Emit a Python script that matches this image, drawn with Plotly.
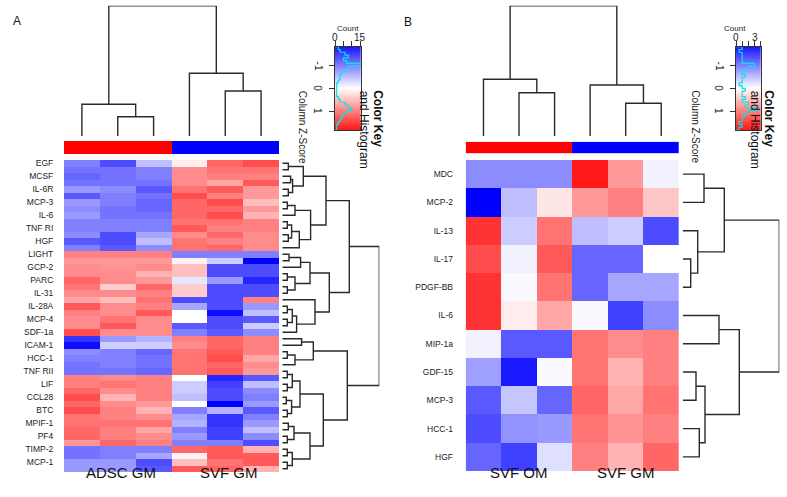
import numpy as np
import plotly.graph_objects as go

W, H = 787, 497
FONT = "Liberation Sans, Arial, sans-serif"

# ---------------- Panel A data ----------------
a_groups = ["ADSC GM", "SVF GM"]
a_group_codes = [0, 0, 0, 1, 1, 1]
a_row_labels = ["EGF", "MCSF", "IL-6R", "MCP-3", "IL-6", "TNF RI", "HGF", "LIGHT",
                "GCP-2", "PARC", "IL-31", "IL-28A", "MCP-4", "SDF-1a", "ICAM-1",
                "HCC-1", "TNF RII", "LIF", "CCL28", "BTC", "MPIF-1", "PF4",
                "TIMP-2", "MCP-1"]
a_z = [
    [-1.0, -1.4, -0.5, 0.15, 1.2, 1.4],
    [-1.1, -1.1, -1.0, 0.9, 1.1, 1.1],
    [-1.2, -1.1, -1.0, 0.9, 1.0, 1.0],
    [-1.1, -1.1, -1.1, 0.9, 0.7, 1.3],
    [-0.8, -0.9, -1.3, 1.1, 1.3, 0.8],
    [-1.3, -1.0, -1.1, 1.4, 1.0, 0.8],
    [-0.8, -1.0, -1.2, 1.2, 1.4, 0.5],
    [-0.9, -1.1, -1.2, 1.2, 1.2, 0.8],
    [-0.8, -1.1, -1.1, 1.2, 1.4, 0.6],
    [-1.0, -1.0, -1.0, 1.1, 1.1, 1.0],
    [-1.0, -1.0, -1.0, 1.3, 1.0, 1.0],
    [-0.9, -1.4, -0.7, 0.9, 1.2, 0.9],
    [-1.3, -1.4, -0.5, 1.1, 1.0, 0.9],
    [-1.0, -1.3, -0.9, 1.1, 1.2, 0.9],
    [1.0, 1.0, 1.0, -1.0, -1.0, -1.0],
    [0.8, 0.8, 0.8, 0.1, -0.4, -2.0],
    [0.9, 0.85, 0.9, 0.5, -1.4, -1.4],
    [0.9, 0.9, 0.6, 0.5, -1.4, -1.4],
    [1.2, 0.9, 0.8, -0.2, -0.8, -1.7],
    [1.1, 0.4, 1.2, 0.4, -1.4, -1.4],
    [0.9, 0.9, 1.0, 0.4, -1.4, -1.4],
    [0.7, 0.5, 1.1, -1.4, -1.4, 1.0],
    [1.3, 0.9, 1.0, -0.7, -1.4, -0.8],
    [1.0, 0.9, 1.3, 0.0, -1.9, -0.5],
    [0.9, 1.1, 0.9, 0.0, -1.4, -1.3],
    [0.9, 1.3, 0.9, -1.3, -1.4, -0.4],
    [1.4, 0.9, 0.9, -1.0, -1.3, -0.9],
    [-1.6, -0.8, -0.6, 1.0, 1.2, 1.0],
    [-1.9, -0.4, -0.4, 0.9, 1.2, 1.0],
    [-0.9, -1.0, -1.2, 1.1, 1.3, 1.0],
    [-1.0, -1.0, -1.1, 1.1, 1.4, 0.7],
    [-1.1, -1.0, -1.1, 1.1, 1.2, 0.9],
    [-1.1, -1.1, -1.2, 1.1, 1.3, 0.8],
    [1.0, 0.9, 1.0, 0.0, -1.7, -1.3],
    [1.0, 1.1, 1.0, -0.4, -1.5, -0.5],
    [1.2, 0.9, 1.0, -0.4, -1.4, -0.9],
    [1.4, 0.6, 1.0, -0.5, -1.4, -1.0],
    [1.2, 0.9, 0.8, 0.0, -2.0, -0.8],
    [1.4, 1.0, 0.6, -1.0, -0.6, -1.3],
    [1.1, 1.0, 0.9, -0.7, -1.6, -1.0],
    [1.1, 1.1, 1.1, -0.6, -1.6, -0.8],
    [1.2, 1.0, 0.7, -1.0, -1.5, -0.5],
    [1.2, 1.0, 0.9, -0.8, -1.5, -0.9],
    [0.8, 1.2, 1.0, -1.0, -1.0, -1.4],
    [-1.1, -1.0, -1.0, 1.2, 1.3, 0.6],
    [-1.1, -1.0, -0.7, 0.1, 1.3, 1.3],
    [-0.8, -0.8, -1.4, 0.5, 1.1, 1.3],
    [-0.8, -0.8, -1.3, 1.3, 1.2, 0.6],
]
# column dendrogram (height, left, right); leaves = column positions
a_col_tree = (130.3, (31.7, 0, (19.3, 1, 2)), (62.7, 3, (45.0, 4, 5)))
# row dendrogram; leaves = row positions
a_row_tree = (97.0,
    (67.0,
        (43.7,
            (21.0, (6.0, 0, 1), (10.3, (8.3, 2, 3), (6.0, 4, 5))),
            (28.3, (12.7, (5.0, 6, 7), 8), (17.0, (9.3, (5.0, 9, 10), (6.0, 11, 12)), 13))),
        (47.0,
            (27.7, (18.3, (6.7, 14, 15), 16), (12.7, (5.0, 17, 18), (5.0, 19, 20))),
            (32.7, 21, (14.3, (10.0, (5.0, 22, 23), (5.0, 24, 25)), 26)))),
    (65.0,
        (31.0, (19.3, 27, 28), (12.7, (5.0, 29, 30), 31)),
        (41.0,
            (17.7, (10.0, (5.0, 32, 33), (5.0, 34, 35)), (9.3, (4.0, 36, 37), (5.0, 38, 39))),
            (27.7, (11.7, (6.0, 40, 41), (5.0, 42, 43)), (10.0, (5.0, 44, 45), (5.0, 46, 47))))))
a_count_ticks = [0, 5, 10, 15]
a_count_labels = ["0", "15"]
a_count_label_at = [0, 15]
a_count_max = 15.4
# histogram in the colour key (counts per z-score bin, top = -1.83 to bottom = +1.83)
a_hist_counts = [2, 3, 6, 8, 5, 7, 15, 8, 6, 4, 3, 3, 2, 1, 1,
                 1, 1, 1, 2, 3, 6, 8, 10, 7, 5, 4, 3, 2, 1, 1]

# ---------------- Panel B data ----------------
b_groups = ["SVF OM", "SVF GM"]
b_group_codes = [0, 0, 0, 1, 1, 1]
b_row_labels = ["MDC", "MCP-2", "IL-13", "IL-17", "PDGF-BB", "IL-6", "MIP-1a",
                "GDF-15", "MCP-3", "HCC-1", "HGF"]
b_z = [
    [-0.9, -0.9, -0.9, 1.8, 0.8, -0.1],
    [-2.0, -0.5, 0.2, 0.8, 1.0, 0.45],
    [1.6, -0.4, 1.1, -0.5, -0.4, -1.4],
    [1.4, -0.1, 1.3, -1.2, -1.2, 0.0],
    [1.6, -0.05, 1.1, -1.2, -0.7, -0.7],
    [1.6, 0.15, 0.7, -0.05, -1.5, -0.9],
    [-0.1, -1.3, -1.3, 1.1, 0.9, 1.0],
    [-0.75, -1.8, -0.05, 1.1, 0.6, 1.0],
    [-1.3, -0.45, -1.2, 1.2, 0.7, 1.1],
    [-1.4, -0.85, -0.8, 1.1, 0.85, 1.0],
    [-1.2, -1.5, -0.25, 1.0, 0.6, 1.2],
]
b_col_tree = (130.3, (56.7, 0, (43.3, 1, 2)), (51.0, 3, (32.7, 4, 5)))
b_row_tree = (96.6,
    (41.6, (21.3, 0, 1), (15.0, 2, (8.0, 3, 4))),
    (56.6, (36.3, 5, 6), (22.3, (13.3, 7, 8), (16.6, 9, 10))))
b_count_ticks = [0, 1, 2, 3, 4]
b_count_labels = ["0", "3"]
b_count_label_at = [0, 3]
b_count_max = 4.0
b_hist_counts = [1, 0.5, 1, 1, 1, 1, 3, 2, 1, 1, 1.5, 1, 1, 0.5, 1,
                 1.5, 1, 1, 1.5, 1, 2, 1.5, 3.5, 2, 1.5, 1, 1, 0.5, 1, 0.5]

KEY_RANGE = 1.83
CS = [[0, "rgb(0,0,255)"], [0.5, "rgb(255,255,255)"], [1, "rgb(255,0,0)"]]
LINE = dict(color="#2a2a2a", width=1.4)


def px_x(a, b):
    return [a / W, b / W]


def px_y(top, bottom):
    return [1 - bottom / H, 1 - top / H]


def dendro(node, xs, ys):
    """returns (position, height) and appends segments"""
    if isinstance(node, int):
        return float(node), 0.0
    h, l, r = node
    pl, hl = dendro(l, xs, ys)
    pr, hr = dendro(r, xs, ys)
    xs.extend([pl, pl, pr, pr, None])
    ys.extend([hl, h, h, hr, None])
    return (pl + pr) / 2, h


fig = go.Figure()
layout = dict(width=W, height=H, margin=dict(l=0, r=0, t=0, b=0), autosize=False,
              paper_bgcolor="white", plot_bgcolor="white", showlegend=False,
              template="none", font=dict(family=FONT, color="#222"))
annotations = []

hidden = dict(showgrid=False, zeroline=False, showticklabels=False, ticks="",
              showline=False, fixedrange=True)


def panel(idx, z, row_labels, label_every, groups, codes, col_tree, row_tree,
          heat_x, heat_y, bar_y, dend_y, row_dend_x, key_x, key_y,
          count_ticks, count_labels, count_label_at, count_max, hist_counts,
          label_len, group_pos, letter, letter_xy):
    n_rows = len(z)
    base = idx * 5
    ax = [str(base + i + 1) if base + i + 1 > 1 else "" for i in range(5)]
    # heatmap
    fig.add_trace(go.Heatmap(z=z, x=list(range(6)), y=list(range(n_rows)),
                             colorscale=CS, zmin=-2, zmax=2, showscale=False,
                             xaxis="x" + ax[0], yaxis="y" + ax[0], hoverinfo="skip"))
    layout["xaxis" + ax[0]] = dict(hidden, domain=px_x(*heat_x), range=[-0.5, 5.5],
                                   anchor="y" + ax[0])
    tv = list(range(0, n_rows, label_every))
    layout["yaxis" + ax[0]] = dict(showgrid=False, zeroline=False, showline=False,
                                   domain=px_y(*heat_y), range=[n_rows - 0.5, -0.5],
                                   anchor="x" + ax[0], tickvals=tv,
                                   ticktext=[row_labels[i // label_every] for i in tv],
                                   ticks="outside", ticklen=label_len,
                                   tickcolor="rgba(0,0,0,0)",
                                   tickfont=dict(size=8.5, family=FONT, color="#222"))
    # column side colour bar
    fig.add_trace(go.Heatmap(z=[codes], x=list(range(6)), y=[0],
                             colorscale=[[0, "rgb(255,0,0)"], [1, "rgb(0,0,255)"]],
                             showscale=False, xaxis="x" + ax[1], yaxis="y" + ax[1],
                             hoverinfo="skip"))
    layout["xaxis" + ax[1]] = dict(hidden, domain=px_x(*heat_x), range=[-0.5, 5.5],
                                   anchor="y" + ax[1])
    layout["yaxis" + ax[1]] = dict(hidden, domain=px_y(*bar_y), range=[-0.5, 0.5],
                                   anchor="x" + ax[1])
    # column dendrogram
    xs, ys = [], []
    _, top_h = dendro(col_tree, xs, ys)
    fig.add_trace(go.Scatter(x=xs, y=ys, mode="lines", line=LINE,
                             xaxis="x" + ax[2], yaxis="y" + ax[2], hoverinfo="skip"))
    layout["xaxis" + ax[2]] = dict(hidden, domain=px_x(*heat_x), range=[-0.5, 5.5],
                                   anchor="y" + ax[2])
    layout["yaxis" + ax[2]] = dict(hidden, domain=px_y(*dend_y), range=[0, top_h],
                                   anchor="x" + ax[2])
    # row dendrogram
    xs, ys = [], []
    _, row_h = dendro(row_tree, xs, ys)
    fig.add_trace(go.Scatter(x=ys, y=xs, mode="lines", line=LINE,
                             xaxis="x" + ax[3], yaxis="y" + ax[3], hoverinfo="skip"))
    layout["xaxis" + ax[3]] = dict(hidden, domain=px_x(*row_dend_x), range=[0, row_h],
                                   anchor="y" + ax[3])
    layout["yaxis" + ax[3]] = dict(hidden, domain=px_y(*heat_y),
                                   range=[n_rows - 0.5, -0.5], anchor="x" + ax[3])
    # colour key with histogram
    kv = np.linspace(-KEY_RANGE, KEY_RANGE, 120)
    fig.add_trace(go.Heatmap(z=[[v, v] for v in kv], x=[0, count_max], y=kv,
                             colorscale=CS, zmin=-2, zmax=2, showscale=False,
                             xaxis="x" + ax[4], yaxis="y" + ax[4], hoverinfo="skip"))
    edges = np.linspace(-KEY_RANGE, KEY_RANGE, len(hist_counts) + 1)
    hx, hy = [0.0], [edges[0]]
    for c, e0, e1 in zip(hist_counts, edges[:-1], edges[1:]):
        hx.extend([c, c])
        hy.extend([e0, e1])
    hx.append(0.0)
    hy.append(edges[-1])
    fig.add_trace(go.Scatter(x=hx, y=hy, mode="lines", line=dict(color="#00e8e8", width=1.2),
                             xaxis="x" + ax[4], yaxis="y" + ax[4], hoverinfo="skip"))
    layout["xaxis" + ax[4]] = dict(showgrid=False, zeroline=False, fixedrange=True,
                                   domain=px_x(*key_x), range=[0, count_max],
                                   anchor="y" + ax[4], side="top", ticks="outside",
                                   ticklen=5, tickwidth=1, tickcolor="#333",
                                   tickvals=count_ticks, showticklabels=False,
                                   showline=True, mirror=True, linecolor="#333",
                                   linewidth=1)
    layout["yaxis" + ax[4]] = dict(showgrid=False, zeroline=False, fixedrange=True,
                                   domain=px_y(*key_y), range=[KEY_RANGE, -KEY_RANGE],
                                   anchor="x" + ax[4], ticks="outside", ticklen=5,
                                   tickcolor="#333", tickvals=[-1, 0, 1],
                                   showticklabels=False, showline=True, mirror=True,
                                   linecolor="#333", linewidth=1)
    kx0, kx1 = key_x
    for v in [-1, 0, 1]:
        annotations.append(dict(x=(kx0 - 17) / W, xref="paper", y=v, yref="y" + ax[4],
                                text=str(v), showarrow=False, textangle=90,
                                font=dict(size=10, family=FONT, color="#222"),
                                xanchor="center", yanchor="middle"))
    for lab, at in zip(count_labels, count_label_at):
        annotations.append(dict(x=at, xref="x" + ax[4], y=1 - 30 / H, yref="paper",
                                text=lab, showarrow=False,
                                font=dict(size=10, family=FONT, color="#222")))
    kmid = (key_y[0] + key_y[1]) / 2
    annotations.append(dict(x=(kx0 - 33) / W, y=1 - kmid / H, xref="paper", yref="paper",
                            text="Column Z-Score", textangle=90, showarrow=False,
                            font=dict(size=10, family=FONT, color="#222")))
    annotations.append(dict(x=(kx1 + 3) / W, y=1 - kmid / H, xref="paper", yref="paper",
                            text="and Histogram", textangle=90, showarrow=False,
                            font=dict(size=12, family=FONT, color="#111")))
    annotations.append(dict(x=(kx1 + 17) / W, y=1 - kmid / H, xref="paper", yref="paper",
                            text="<b>Color Key</b>", textangle=90, showarrow=False,
                            font=dict(size=12, family=FONT, color="#111")))
    annotations.append(dict(x=(kx0 + kx1) / 2 / W, y=1 - 21.5 / H, xref="paper",
                            yref="paper", text="Count", showarrow=False,
                            font=dict(size=8, family=FONT, color="#222")))
    # group labels
    for g, pos in zip(groups, group_pos):
        annotations.append(dict(x=pos, xref="x" + ax[0], y=1 - 483 / H, yref="paper",
                                text=g, showarrow=False,
                                font=dict(size=15, family=FONT, color="#111")))
    annotations.append(dict(x=letter_xy[0] / W, y=1 - letter_xy[1] / H, xref="paper",
                            yref="paper", text=letter, showarrow=False,
                            font=dict(size=12, family=FONT, color="#111")))


panel(0, a_z, a_row_labels, 2, a_groups, a_group_codes, a_col_tree, a_row_tree,
      heat_x=(64, 279), heat_y=(160, 472), bar_y=(141, 154), dend_y=(5.7, 136),
      row_dend_x=(282.3, 379.3), key_x=(335, 360.7), key_y=(46.7, 130),
      count_ticks=a_count_ticks, count_labels=a_count_labels,
      count_label_at=a_count_label_at, count_max=a_count_max,
      hist_counts=a_hist_counts,
      label_len=8, group_pos=[1.1, 4.1], letter="A", letter_xy=(11, 12))

panel(1, b_z, b_row_labels, 1, b_groups, b_group_codes, b_col_tree, b_row_tree,
      heat_x=(465.7, 679), heat_y=(160, 471), bar_y=(141.7, 153.3), dend_y=(5.7, 136),
      row_dend_x=(682.7, 779.3), key_x=(736, 760.7), key_y=(46.7, 130),
      count_ticks=b_count_ticks, count_labels=b_count_labels,
      count_label_at=b_count_label_at, count_max=b_count_max,
      hist_counts=b_hist_counts,
      label_len=10, group_pos=[1.0, 4.0], letter="B", letter_xy=(408, 13))

layout["annotations"] = annotations
fig.update_layout(**layout)
fig.write_html("out.html", config={"displayModeBar": False},
               post_script="document.body.style.margin='0px';"
                           "document.body.style.overflow='hidden';")
